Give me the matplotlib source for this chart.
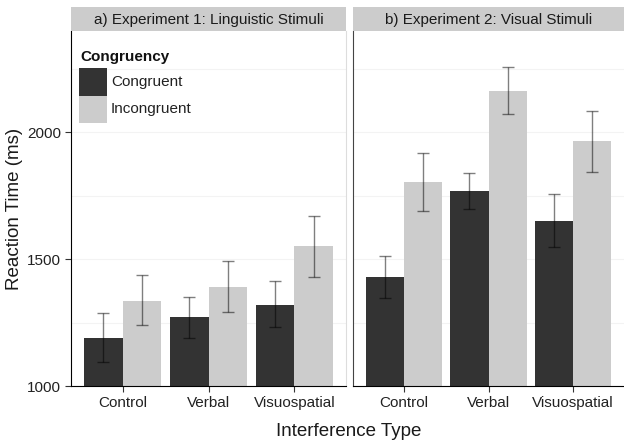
import numpy as np
import matplotlib.pyplot as plt
from matplotlib.patches import Rectangle

plt.rcParams['font.family'] = ['Liberation Sans', 'DejaVu Sans']

# data
categories = ['Control', 'Verbal', 'Visuospatial']
groups = ['Congruent', 'Incongruent']
panel_titles = ['a) Experiment 1: Linguistic Stimuli', 'b) Experiment 2: Visual Stimuli']

exp1_congruent = [1189, 1270, 1320]
exp1_congruent_lo = [1096, 1188, 1231]
exp1_congruent_hi = [1288, 1352, 1414]
exp1_incongruent = [1335, 1390, 1551]
exp1_incongruent_lo = [1239, 1290, 1431]
exp1_incongruent_hi = [1437, 1491, 1669]

exp2_congruent = [1428, 1766, 1648]
exp2_congruent_lo = [1346, 1697, 1548]
exp2_congruent_hi = [1513, 1840, 1756]
exp2_incongruent = [1804, 2161, 1965]
exp2_incongruent_lo = [1689, 2070, 1844]
exp2_incongruent_hi = [1918, 2257, 2084]

yticks = [1000, 1500, 2000]
minor_grid = [1250, 1750, 2250]

colors = ['#333333', '#cccccc']

W, H = 624, 443
fig = plt.figure(figsize=(W / 100, H / 100), dpi=100)


def px_axes(x0, y0, x1, y1):
    # pixel box (top-left origin) -> figure axes
    return fig.add_axes([x0 / W, 1 - y1 / H, (x1 - x0) / W, (y1 - y0) / H])


panels = [
    (px_axes(71, 31, 346, 386), px_axes(71, 7, 346, 31),
     [(exp1_congruent, exp1_congruent_lo, exp1_congruent_hi),
      (exp1_incongruent, exp1_incongruent_lo, exp1_incongruent_hi)]),
    (px_axes(353, 31, 624, 386), px_axes(353, 7, 624, 31),
     [(exp2_congruent, exp2_congruent_lo, exp2_congruent_hi),
      (exp2_incongruent, exp2_incongruent_lo, exp2_incongruent_hi)]),
]

x = np.arange(1, len(categories) + 1)
width = 0.45

for i, (ax, sax, series) in enumerate(panels):
    for g in minor_grid + yticks:
        ax.axhline(g, color='#f3f3f3', lw=0.8, zorder=0)
    for j, (vals, lo, hi) in enumerate(series):
        xpos = x + (j - 0.5) * width
        ax.bar(xpos, vals, width=width, color=colors[j], zorder=2)
        vals = np.array(vals)
        err = [vals - np.array(lo), np.array(hi) - vals]
        ax.errorbar(xpos, vals, yerr=err, fmt='none', ecolor='black', alpha=0.5,
                    elinewidth=1, capsize=4, capthick=1, zorder=3)
    ax.set_xlim(0.4, 3.6)
    ax.set_ylim(1000, 2398)
    ax.set_xticks(x)
    ax.set_xticklabels(categories, fontsize=11, color='#222222')
    ax.set_yticks(yticks)
    ax.tick_params(axis='both', length=4, width=0.8, color='#333333', pad=3)
    if i == 0:
        ax.set_yticklabels([str(t) for t in yticks], fontsize=11, color='#222222')
        ax.spines['right'].set_color('#dddddd')
        ax.spines['left'].set_color('black')
    else:
        ax.tick_params(axis='y', labelleft=False, length=0)
        ax.spines['right'].set_visible(False)
        ax.spines['left'].set_color('#444444')
    ax.spines['top'].set_visible(False)
    ax.spines['bottom'].set_color('black')

    sax.set_facecolor('#cccccc')
    sax.set_xticks([])
    sax.set_yticks([])
    for s in sax.spines.values():
        s.set_visible(False)
    sax.text(0.5, 0.45, panel_titles[i], ha='center', va='center', fontsize=11,
             color='#1a1a1a', transform=sax.transAxes)

# legend inside the first panel, drawn in pixel positions
fig.text(80 / W, 1 - 57 / H, 'Congruency', ha='left', va='center', fontsize=11,
         fontweight='bold', color='#111111')
for k, (lab, col) in enumerate(zip(groups, colors)):
    top = 68 + k * 27.5
    fig.add_artist(Rectangle((79 / W, 1 - (top + 27.5) / H), 28 / W, 27.5 / H,
                             facecolor=col, edgecolor='none', transform=fig.transFigure))
    fig.text(111 / W, 1 - (top + 14) / H, lab, ha='left', va='center', fontsize=11,
             color='#222222')

fig.text(15 / W, 1 - 209 / H, 'Reaction Time (ms)', rotation=90, ha='center',
         va='center', fontsize=13.5, color='#1a1a1a')
fig.text(349 / W, 1 - 431 / H, 'Interference Type', ha='center', va='center',
         fontsize=13.5, color='#1a1a1a')

fig.savefig('out.png', dpi=100)
